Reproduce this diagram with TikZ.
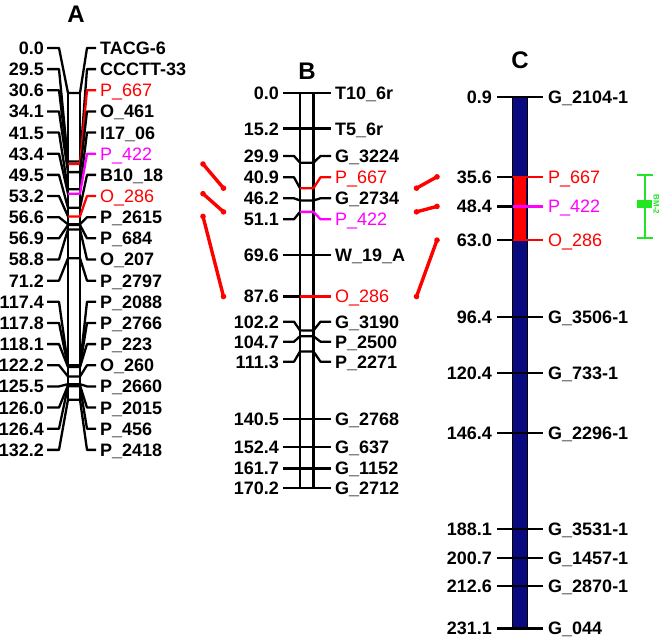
\documentclass[tikz,border=0pt]{standalone}
\usepackage{fontspec}
\setmainfont{Liberation Sans}
\usetikzlibrary{calc}
\definecolor{mapred}{HTML}{FF0000}
\definecolor{mappink}{HTML}{FF00FF}
\definecolor{mapnavy}{HTML}{0A0A80}
\definecolor{qtlgreen}{HTML}{22E622}

\begin{document}
\begin{tikzpicture}[x=1pt, y=-1pt,
  mapline/.style={line width=2.3pt, line join=round},
  chrbar/.style={draw=black, line width=2.2pt, fill=white},
  cmlab/.style={font=\fontsize{18}{18}\selectfont\bfseries, inner sep=0pt,
                text height=12.9pt, text depth=0pt, anchor=east},
  locus/.style={font=\fontsize{18}{18}\selectfont, inner sep=0pt,
                text height=12.9pt, text depth=0pt, anchor=west},
  grouptitle/.style={font=\fontsize{24}{24}\selectfont\bfseries},
  homlink/.style={draw=mapred, line width=3.4pt, line cap=round},
  qtlbar/.style={draw=qtlgreen, line width=2.2pt},
]
\useasboundingbox (0,0) rectangle (664,639);

\node[grouptitle] (A-title) at (76,14) {A};
\node[grouptitle] (B-title) at (307,71) {B};
\node[grouptitle] (C-title) at (520,60) {C};

% group A
\path[chrbar] (68,93) rectangle (80,{93+2.32*132.2});
\foreach \cm/\nm/\col/\wt [count=\i from 0] in {
  0.0/TACG-6/black/\bfseries, 29.5/CCCTT-33/black/\bfseries,
  30.6/P\_667/mapred/\mdseries, 34.1/O\_461/black/\bfseries,
  41.5/I17\_06/black/\bfseries, 43.4/P\_422/mappink/\mdseries,
  49.5/B10\_18/black/\bfseries, 53.2/O\_286/mapred/\mdseries,
  56.6/P\_2615/black/\bfseries, 56.9/P\_684/black/\bfseries,
  58.8/O\_207/black/\bfseries, 71.2/P\_2797/black/\bfseries,
  117.4/P\_2088/black/\bfseries, 117.8/P\_2766/black/\bfseries,
  118.1/P\_223/black/\bfseries, 122.2/O\_260/black/\bfseries,
  125.5/P\_2660/black/\bfseries, 126.0/P\_2015/black/\bfseries,
  126.4/P\_456/black/\bfseries, 132.2/P\_2418/black/\bfseries}
{
  \pgfmathsetmacro\ly{48+21.15*\i}
  \pgfmathsetmacro\ty{93+2.32*\cm}
  \node[cmlab] (A-p\i) at (44,\ly) {\cm};
  \node[locus, text=\col] (A-m\i) at (100,\ly) {\wt\nm};
  \coordinate (A-e\i) at (59,\ly);
  \coordinate (A-l\i) at (68,\ty);
  \coordinate (A-r\i) at (80,\ty);
  \coordinate (A-f\i) at (87,\ly);
  \coordinate (A-lk\i) at (203,\ty);
  \draw[mapline] ([xshift=3pt]A-p\i.east) -- (A-e\i) -- (A-l\i);
  \draw[mapline, draw=\col] (A-l\i) -- (A-r\i) -- (A-f\i) -- ([xshift=-4pt]A-m\i.west);
}

% group B
\path[chrbar] (300,93.3) rectangle (313.5,{93.3+2.32*170.2});
\foreach \cm/\off/\nm/\col/\wt [count=\i from 0] in {
  0.0/0/T10\_6r/black/\bfseries, 15.2/0/T5\_6r/black/\bfseries,
  29.9/-6.7/G\_3224/black/\bfseries, 40.9/-10.9/P\_667/mapred/\mdseries,
  46.2/-2.2/G\_2734/black/\bfseries, 51.1/7.4/P\_422/mappink/\mdseries,
  69.6/0/W\_19\_A/black/\bfseries, 87.6/0/O\_286/mapred/\mdseries,
  102.2/-8.7/G\_3190/black/\bfseries, 104.7/5.5/P\_2500/black/\bfseries,
  111.3/10.2/P\_2271/black/\bfseries, 140.5/0/G\_2768/black/\bfseries,
  152.4/0/G\_637/black/\bfseries, 161.7/0/G\_1152/black/\bfseries,
  170.2/0/G\_2712/black/\bfseries}
{
  \pgfmathsetmacro\ty{93.3+2.32*\cm}
  \pgfmathsetmacro\ly{\ty+(\off)}
  \node[cmlab] (B-p\i) at (279,\ly) {\cm};
  \node[locus, text=\col] (B-m\i) at (335,\ly) {\wt\nm};
  \coordinate (B-e\i) at (294,\ly);
  \coordinate (B-l\i) at (300,\ty);
  \coordinate (B-r\i) at (313.5,\ty);
  \coordinate (B-f\i) at (320.5,\ly);
  \coordinate (B-lkl\i) at (223.5,\ty);
  \coordinate (B-lkr\i) at (416.5,\ty);
  \draw[mapline] ([xshift=4pt]B-p\i.east) -- (B-e\i) -- (B-l\i);
  \draw[mapline, draw=\col] (B-l\i) -- (B-r\i) -- (B-f\i) -- ([xshift=-4pt]B-m\i.west);
}

% group C
\path[draw=black, line width=1pt, fill=mapnavy] (512.5,{94.6+2.31*0.9}) rectangle (527,{94.6+2.31*231.1});
\fill[mapred] (514,{94.6+2.31*35.6}) rectangle (526,{94.6+2.31*63});
\foreach \cm/\nm/\col/\wt [count=\i from 0] in {
  0.9/G\_2104-1/black/\bfseries, 35.6/P\_667/mapred/\mdseries,
  48.4/P\_422/mappink/\mdseries, 63.0/O\_286/mapred/\mdseries,
  96.4/G\_3506-1/black/\bfseries, 120.4/G\_733-1/black/\bfseries,
  146.4/G\_2296-1/black/\bfseries, 188.1/G\_3531-1/black/\bfseries,
  200.7/G\_1457-1/black/\bfseries, 212.6/G\_2870-1/black/\bfseries,
  231.1/G\_044/black/\bfseries}
{
  \pgfmathsetmacro\ty{94.6+2.31*\cm}
  \node[cmlab] (C-p\i) at (492,\ty) {\cm};
  \node[locus, text=\col] (C-m\i) at (548,\ty) {\wt\nm};
  \coordinate (C-l\i) at (512.5,\ty);
  \coordinate (C-lk\i) at (437,\ty);
  \draw[mapline] ([xshift=5pt]C-p\i.east) -- (C-l\i);
  \draw[mapline, draw=\col] (C-l\i) -- ([xshift=-5pt]C-m\i.west);
}

% homologous loci
\foreach \a/\b in {A-lk2/B-lkl3, A-lk5/B-lkl5, A-lk7/B-lkl7,
                   B-lkr3/C-lk1, B-lkr5/C-lk2, B-lkr7/C-lk3}
{
  \draw[homlink] (\a) -- (\b);
  \fill[mapred] (\a) circle (2.8pt) (\b) circle (2.8pt);
}

% QTL
\coordinate (qtl-top) at (645,{94.6+2.31*35.6-2});
\coordinate (qtl-mid) at (645,{94.6+2.31*48.4-2});
\coordinate (qtl-bot) at (645,{94.6+2.31*63-2});
\draw[qtlbar] (qtl-top) -- (qtl-bot);
\draw[qtlbar] ([xshift=-8pt]qtl-top) -- ([xshift=8pt]qtl-top);
\draw[qtlbar] ([xshift=-8pt]qtl-bot) -- ([xshift=8pt]qtl-bot);
\fill[qtlgreen] ([xshift=-8pt,yshift=4pt]qtl-mid) rectangle ([xshift=7pt,yshift=-4pt]qtl-mid);
\node[font=\fontsize{8}{8}\selectfont\bfseries, text=qtlgreen, rotate=-90, inner sep=0pt] (qtl-name) at (656.5,{94.6+2.31*48.4-2}) {BM-2};
\end{tikzpicture}
\end{document}
